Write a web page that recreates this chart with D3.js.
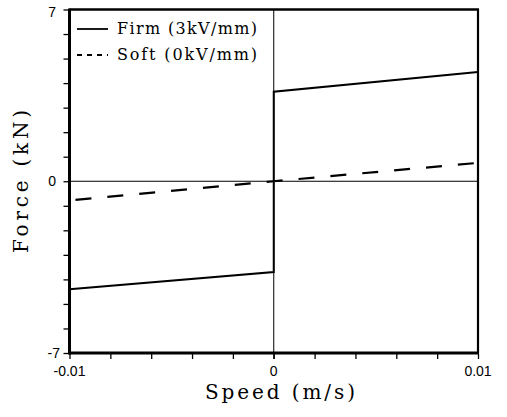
<!DOCTYPE html>
<html>
<head>
<meta charset="utf-8">
<script src="https://cdn.jsdelivr.net/npm/d3@7"></script>
<style>
  html, body { margin: 0; padding: 0; background: #fff; }
  svg { display: block; }
</style>
</head>
<body>
<svg id="chart" width="507" height="417"></svg>
<script>
// ---- data ----
const firmSpeed = [-0.01, 0, 0, 0.01];
const firmForce = [-4.4, -3.7, 3.65, 4.45];
const softSpeed = [-0.01, 0, 0.01];
const softForce = [-0.78, 0, 0.75];
const xTickValues = [-0.01, 0, 0.01];
const xTickLabels = ["-0.01", "0", "0.01"];
const yTickValues = [-7, 0, 7];
const yTickLabels = ["-7", "0", "7"];
const legendLabels = ["Firm (3kV/mm)", "Soft (0kV/mm)"];
const xTitle = "Speed (m/s)";
const yTitle = "Force (kN)";

// ---- layout ----
const svg = d3.select("#chart");
const L = 69.5, R = 478, T = 9.5, B = 353;
const x = d3.scaleLinear().domain([-0.01, 0.01]).range([L, R]);
const y = d3.scaleLinear().domain([-7, 7]).range([B, T]);
const serif = "'DejaVu Serif', 'Liberation Serif', serif";
const sans = "'Liberation Sans', Arial, sans-serif";

// minor ticks
const yAxis = d3.axisLeft(y).tickValues(d3.range(-7, 7.01, 1)).tickSize(5).tickFormat("");
svg.append("g").attr("transform", `translate(${L - 1},0)`).call(yAxis)
  .call(g => g.select(".domain").remove())
  .call(g => g.selectAll("line").attr("stroke", "#000").attr("stroke-width", 1.3));
const xAxis = d3.axisBottom(x).tickValues(d3.range(-0.01, 0.01001, 0.002)).tickSize(5).tickFormat("");
svg.append("g").attr("transform", `translate(0,${B + 1})`).call(xAxis)
  .call(g => g.select(".domain").remove())
  .call(g => g.selectAll("line").attr("stroke", "#000").attr("stroke-width", 1.3));

// reference lines at zero
svg.append("line").attr("x1", L).attr("x2", R).attr("y1", y(0)).attr("y2", y(0))
  .attr("stroke", "#000").attr("stroke-width", 1);
svg.append("line").attr("x1", x(0)).attr("x2", x(0)).attr("y1", T).attr("y2", B + 6)
  .attr("stroke", "#000").attr("stroke-width", 1);

// frame
svg.append("line").attr("x1", L).attr("x2", L).attr("y1", T - 1).attr("y2", B + 1.5).attr("stroke", "#000").attr("stroke-width", 3);
svg.append("line").attr("x1", L - 1).attr("x2", R + 1).attr("y1", B).attr("y2", B).attr("stroke", "#000").attr("stroke-width", 3);
svg.append("line").attr("x1", L).attr("x2", R + 1).attr("y1", T).attr("y2", T).attr("stroke", "#000").attr("stroke-width", 2.5);
svg.append("line").attr("x1", R).attr("x2", R).attr("y1", T).attr("y2", B).attr("stroke", "#000").attr("stroke-width", 2.2);

// series
const line = d3.line().x(d => x(d[0])).y(d => y(d[1]));
const firmData = firmSpeed.map((s, i) => [s, firmForce[i]]);
const softData = softSpeed.map((s, i) => [s, softForce[i]]);
svg.append("path").datum(firmData).attr("d", line)
  .attr("fill", "none").attr("stroke", "#000").attr("stroke-width", 2);
svg.append("path").datum(softData).attr("d", line)
  .attr("fill", "none").attr("stroke", "#000").attr("stroke-width", 2.2)
  .attr("stroke-dasharray", "16,16").attr("stroke-dashoffset", -6);

// tick labels
svg.selectAll(".xl").data(xTickValues).enter().append("text")
  .attr("x", d => x(d)).attr("y", 376).attr("text-anchor", "middle")
  .attr("font-family", sans).attr("font-size", 14).text((d, i) => xTickLabels[i]);
const yLabelDy = { "-7": 5, "0": 5, "7": 7 };
svg.selectAll(".yl").data(yTickValues).enter().append("text")
  .attr("x", d => d === -7 ? 60 : 56).attr("y", d => y(d) + yLabelDy[d]).attr("text-anchor", "end")
  .attr("font-family", sans).attr("font-size", 14).text((d, i) => yTickLabels[i]);

// titles
svg.append("text").attr("x", 280).attr("y", 399).attr("text-anchor", "middle")
  .attr("font-family", serif).attr("font-size", 20)
  .attr("textLength", 150).attr("lengthAdjust", "spacing").text(xTitle);
svg.append("text").attr("transform", "translate(28,181.5) rotate(-90)").attr("text-anchor", "middle")
  .attr("font-family", serif).attr("font-size", 20)
  .attr("textLength", 143).attr("lengthAdjust", "spacing").text(yTitle);

// legend
const legY = [29, 55];
const legDash = [null, "5,5"];
legendLabels.forEach((lab, i) => {
  svg.append("line").attr("x1", 77).attr("x2", 108).attr("y1", legY[i]).attr("y2", legY[i])
    .attr("stroke", "#000").attr("stroke-width", 1.8)
    .attr("stroke-dasharray", legDash[i]);
  svg.append("text").attr("x", 117).attr("y", legY[i] + 5)
    .attr("font-family", serif).attr("font-size", 16)
    .attr("textLength", 140).attr("lengthAdjust", "spacing").text(lab);
});
</script>
</body>
</html>
